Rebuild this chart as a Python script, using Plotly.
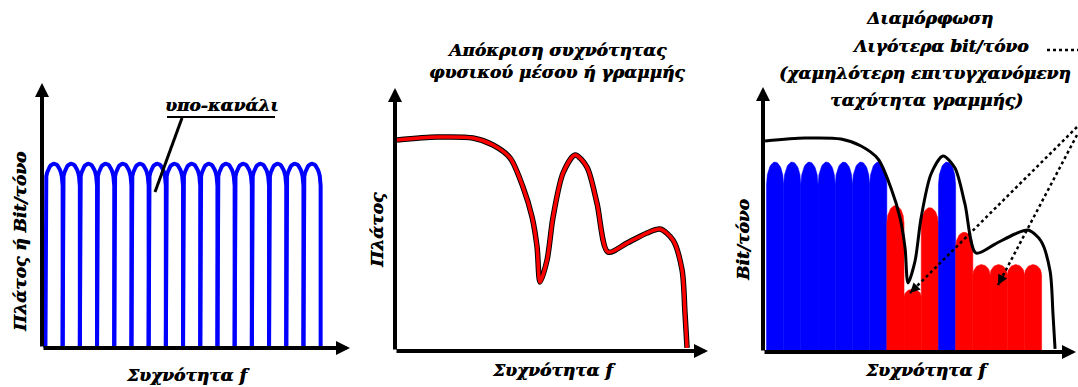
import math
import plotly.graph_objects as go

W, H = 1078, 387

# subchannels (frequency measured in subchannel widths)
n_sub = 16
sub_start = 0.2
ripple = 0.12

# left panel: every subchannel at the same level
amp_flat = [0.97] * n_sub

# right panel: bits per tone after adapting to the line
bits_tone = [1.0, 1.0, 1.0, 1.0, 1.0, 1.0, 1.0,
             0.77, 0.33, 0.76, 1.0, 0.63, 0.46, 0.46, 0.46, 0.46]
full_load = 1.0

# frequency response of the line (middle panel, reused in the right one)
resp_f = [0.12, 2.44, 4.53, 5.70, 6.69, 7.44, 7.97, 8.26, 8.43, 8.84, 9.19,
          9.77, 10.47, 11.16, 11.74, 12.38, 13.49, 14.65, 15.41, 16.16,
          16.69, 16.86, 16.98]
resp_a = [1.111, 1.126, 1.121, 1.084, 1.016, 0.863, 0.705, 0.547, 0.363,
          0.479, 0.705, 0.937, 1.032, 0.968, 0.779, 0.521, 0.568, 0.621,
          0.642, 0.584, 0.426, 0.200, 0.016]

SX = 17.2   # px per subchannel
SY = 190.0  # px per unit of amplitude

FONT = dict(family="DejaVu Serif", size=17, color="black",
            weight="bold", style="italic", shadow="0.6px 0.4px 0px black")
BLUE = "#0000FF"
RED = "#FF0000"

# panel geometry: y-axis px, baseline px, domain px (left, right, top, bottom)
panels = {
    "1": dict(ax=42, base=348, box=(30, 360, 60, 362), tip=350, top=83),
    "2": dict(ax=395, base=351, box=(385, 716, 80, 362), tip=708, top=88),
    "3": dict(ax=763, base=352, box=(750, 1078, 80, 362), tip=1076, top=87),
}


def arch(i, peak):
    x0 = sub_start + i
    xs, ys = [x0], [0]
    for k in range(21):
        u = -1 + 2 * k / 20
        xs.append(x0 + (u + 1) / 2)
        ys.append(peak * (1 - ripple) + peak * ripple * math.sqrt(max(0, 1 - u * u)))
    xs.append(x0 + 1)
    ys.append(0)
    return xs, ys


fig = go.Figure()
layout = dict(width=W, height=H, margin=dict(l=0, r=0, t=0, b=0),
              paper_bgcolor="white", plot_bgcolor="rgba(0,0,0,0)",
              showlegend=False)

annotations = []
shapes = []
for key, p in panels.items():
    L, R, T, B = p["box"]
    sfx = "" if key == "1" else key
    layout["xaxis" + sfx] = dict(domain=[L / W, R / W],
                                 range=[(L - p["ax"]) / SX, (R - p["ax"]) / SX],
                                 visible=False, fixedrange=True)
    layout["yaxis" + sfx] = dict(domain=[1 - B / H, 1 - T / H],
                                 range=[(p["base"] - B) / SY, (p["base"] - T) / SY],
                                 visible=False, fixedrange=True, anchor="x" + sfx)
    xr, yr = "x" + sfx, "y" + sfx
    # axes with arrow heads
    xtip = (p["tip"] - p["ax"]) / SX
    ytop = (p["base"] - p["top"]) / SY
    for hx, hy in [(xtip, 0), (0, ytop)]:
        annotations.append(dict(x=hx, y=hy, ax=0, ay=0, xref=xr, yref=yr,
                                axref=xr, ayref=yr, text="", showarrow=True,
                                arrowhead=2, arrowsize=0.7, arrowwidth=4,
                                arrowcolor="black"))

# left panel: subchannel lobes
for i, a in enumerate(amp_flat):
    xs, ys = arch(i, a)
    fig.add_trace(go.Scatter(x=xs, y=ys, mode="lines", xaxis="x", yaxis="y",
                             line=dict(color=BLUE, width=4), hoverinfo="skip"))

# middle panel: line response
fig.add_trace(go.Scatter(x=resp_f, y=resp_a, mode="lines", xaxis="x2", yaxis="y2",
                         line=dict(color="black", width=5.5, shape="spline", smoothing=0.8),
                         hoverinfo="skip"))
fig.add_trace(go.Scatter(x=resp_f, y=resp_a, mode="lines", xaxis="x2", yaxis="y2",
                         line=dict(color=RED, width=3.5, shape="spline", smoothing=0.8),
                         hoverinfo="skip"))

# right panel: filled bit loading
for i, b in enumerate(bits_tone):
    xs, ys = arch(i, b)
    c = BLUE if b >= full_load else RED
    fig.add_trace(go.Scatter(x=xs, y=ys, mode="lines", fill="toself", fillcolor=c,
                             xaxis="x3", yaxis="y3", line=dict(color=c, width=0.5),
                             hoverinfo="skip"))
fig.add_trace(go.Scatter(x=resp_f, y=resp_a, mode="lines", xaxis="x3", yaxis="y3",
                         line=dict(color="black", width=3, shape="spline", smoothing=0.8),
                         hoverinfo="skip"))


def to_u(pxx, pyy, p):
    return (pxx - p["ax"]) / SX, (p["base"] - pyy) / SY


# dotted pointers from the note to the reduced subchannels
p3 = panels["3"]
for (sx, sy), (ex, ey) in [((1077, 127), (910, 293)), ((1077, 135), (998, 285))]:
    x0, y0 = to_u(sx, sy, p3)
    x1, y1 = to_u(ex, ey, p3)
    fig.add_trace(go.Scatter(x=[x0, x1], y=[y0, y1], mode="lines", xaxis="x3", yaxis="y3",
                             line=dict(color="black", width=2.5, dash="dot"),
                             hoverinfo="skip"))
    d = math.hypot(sx - ex, sy - ey)
    annotations.append(dict(x=x1, y=y1, xref="x3", yref="y3",
                            ax=(sx - ex) / d * 12, ay=(sy - ey) / d * 12,
                            text="", showarrow=True, arrowhead=2, arrowsize=0.8,
                            arrowwidth=2.5, arrowcolor="black"))


def txt(text, x, y, angle=0):
    annotations.append(dict(text=text, x=x / W, y=1 - y / H, xref="paper", yref="paper",
                            showarrow=False, font=FONT, textangle=angle,
                            xanchor="center", yanchor="middle"))


txt("Πλάτος ή Bit/τόνο", 20, 242, -90)
txt("Συχνότητα f", 187, 375)
txt("υπο-κανάλι", 221, 105)
txt("Απόκριση συχνότητας", 557, 50)
txt("φυσικού μέσου ή γραμμής", 557, 72)
txt("Πλάτος", 377, 230, -90)
txt("Συχνότητα f", 553, 370)
txt("Διαμόρφωση", 929, 18)
txt("Λιγότερα bit/τόνο", 940, 46)
txt("(χαμηλότερη επιτυγχανόμενη", 925, 73)
txt("ταχύτητα γραμμής)", 927, 100)
txt("Bit/τόνο", 743, 240, -90)
txt("Συχνότητα f", 926, 370)

# underline and leader of the sub-channel label, dashes after the note
shapes.append(dict(type="line", xref="paper", yref="paper", x0=167 / W, x1=275 / W,
                   y0=1 - 117 / H, y1=1 - 117 / H, line=dict(color="black", width=2)))
shapes.append(dict(type="line", xref="paper", yref="paper", x0=182 / W, x1=155 / W,
                   y0=1 - 118 / H, y1=1 - 192 / H, line=dict(color="black", width=3)))
shapes.append(dict(type="line", xref="paper", yref="paper", x0=1047 / W, x1=1078 / W,
                   y0=1 - 50 / H, y1=1 - 50 / H, line=dict(color="black", width=2.5, dash="dot")))

layout["annotations"] = annotations
layout["shapes"] = shapes
fig.update_layout(**layout)

# the page body has a default margin; drop it so the figure fills the window
fig.write_html("out.html", config={"displayModeBar": False},
               post_script="document.body.style.margin='0';")
